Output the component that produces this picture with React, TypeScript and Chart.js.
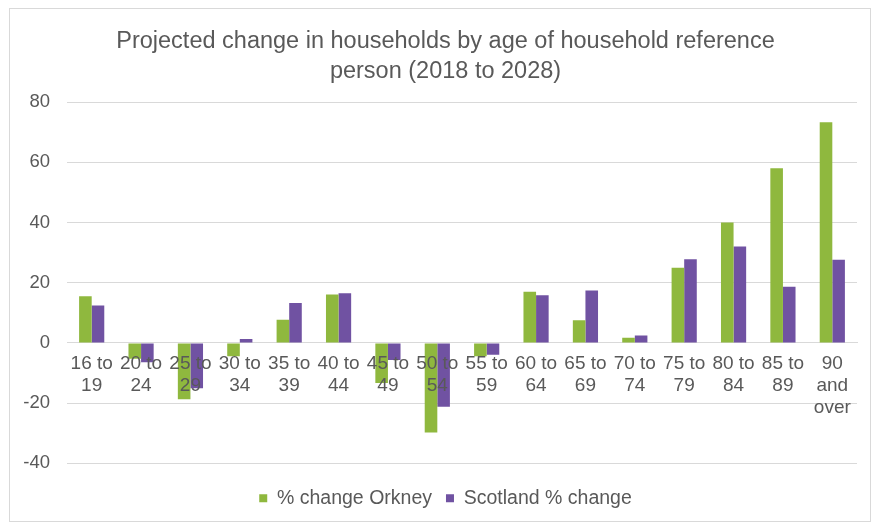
import React, { useEffect, useRef } from "react";
import { Chart, registerables } from "chart.js";

Chart.register(...registerables);

const categories: string[][] = [
  ["16 to", "19"], ["20 to", "24"], ["25 to", "29"], ["30 to", "34"], ["35 to", "39"],
  ["40 to", "44"], ["45 to", "49"], ["50 to", "54"], ["55 to", "59"], ["60 to", "64"],
  ["65 to", "69"], ["70 to", "74"], ["75 to", "79"], ["80 to", "84"], ["85 to", "89"],
  ["90", "and", "over"],
];
const orkney = [15.5, -5.3, -18.7, -4.4, 7.7, 16.1, -13.3, -29.8, -4.4, 17.0, 7.5, 1.7, 25.0, 40.0, 58.0, 73.3];
const scotland = [12.4, -6.4, -15.1, 1.3, 13.3, 16.5, -5.7, -21.2, -3.9, 15.8, 17.4, 2.5, 27.8, 32.0, 18.7, 27.6];
const titleLines = ["Projected change in households by age of household reference", "person (2018 to 2028)"];
const seriesNames = ["% change Orkney", "Scotland % change"];

const FONT = "'Liberation Sans', Arial, sans-serif";
const TEXT = "#595959";
const GRID = "#d9d9d9";

export default function App() {
  const ref = useRef<HTMLCanvasElement | null>(null);
  useEffect(() => {
    if (!ref.current) return;
    const chart = new Chart(ref.current, {
      type: "bar",
      data: {
        labels: categories,
        datasets: [
          { label: seriesNames[0], data: orkney, backgroundColor: "#8fb83e", barPercentage: 1, categoryPercentage: 0.51 },
          { label: seriesNames[1], data: scotland, backgroundColor: "#7052a2", barPercentage: 1, categoryPercentage: 0.51 },
        ],
      },
      options: {
        animation: false,
        responsive: false,
        layout: { padding: { left: 34, right: 18, top: 0, bottom: 7 } },
        plugins: {
          title: {
            display: true,
            text: titleLines,
            color: TEXT,
            font: { family: FONT, size: 23.5, weight: "normal", lineHeight: 1.28 },
            padding: { top: 26, bottom: 16 },
          },
          legend: {
            position: "bottom",
            title: { display: true, text: "", font: { size: 1 }, padding: { top: 0, bottom: 10 } },
            labels: {
              color: TEXT,
              font: { family: FONT, size: 19.5 },
              boxWidth: 8,
              boxHeight: 8,
              padding: 14,
            },
          },
          tooltip: { enabled: false },
        },
        scales: {
          x: {
            position: { y: 0 } as any,
            grid: { display: false, drawTicks: false },
            border: { color: GRID },
            ticks: {
              z: 1,
              color: TEXT,
              font: { family: FONT, size: 19, lineHeight: 1.15 },
              autoSkip: false,
              maxRotation: 0,
              padding: 10,
            },
          },
          y: {
            min: -40,
            max: 80,
            afterFit: (s: any) => {
              s.width = 33;
              s._computeLabelArea = () => undefined;
            },
            grid: { color: GRID, drawTicks: false },
            border: { display: false },
            ticks: {
              stepSize: 20,
              color: TEXT,
              font: { family: FONT, size: 18.5 },
              padding: 17,
            },
          },
        },
      },
    });
    return () => chart.destroy();
  }, []);
  return (
    <div style={{ position: "absolute", left: 0, top: 0, width: 875, height: 525, background: "#fff" }}>
      <div style={{ position: "absolute", left: 9, top: 8, width: 860, height: 512, border: "1px solid #d9d9d9" }} />
      <canvas ref={ref} width={875} height={525} style={{ position: "absolute", left: 0, top: 0 }} />
    </div>
  );
}
